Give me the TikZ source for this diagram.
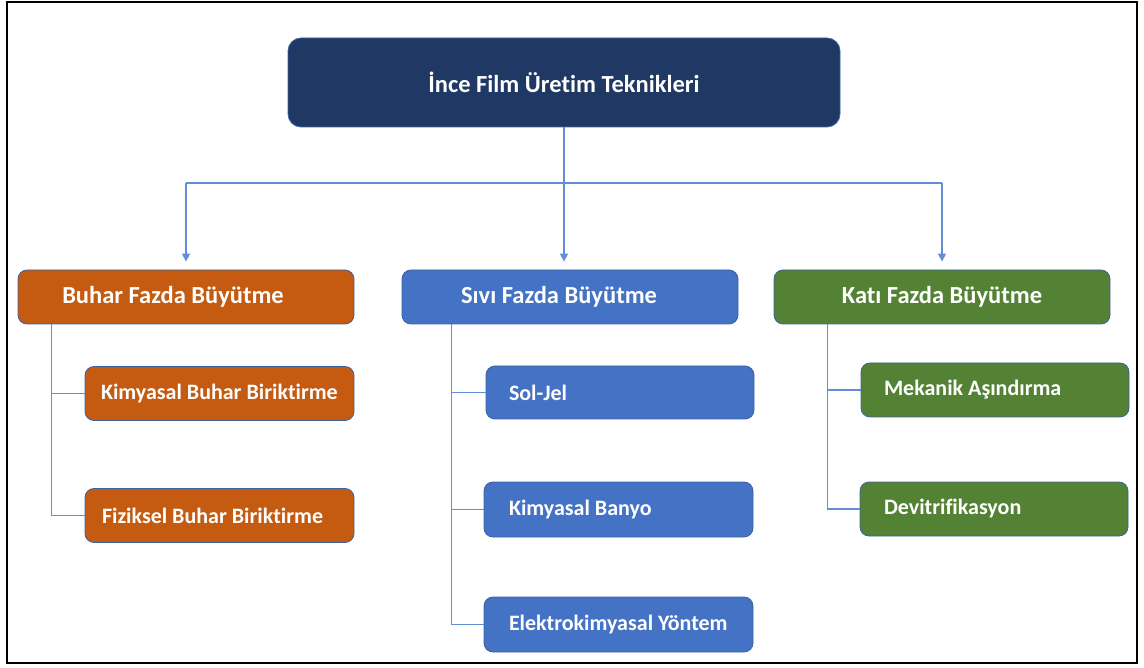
\documentclass[tikz,border=0pt]{standalone}
\usepackage{fontspec}
\setmainfont[Ligatures={NoCommon}]{Carlito}
\usetikzlibrary{arrows.meta}

\definecolor{navyfill}{RGB}{31,56,100}
\definecolor{orangefill}{RGB}{197,90,17}
\definecolor{bluefill}{RGB}{68,114,196}
\definecolor{greenfill}{RGB}{84,130,53}
\definecolor{boxline}{RGB}{62,98,160}
\definecolor{connline}{RGB}{100,140,215}

\newcommand{\leftpad}[2]{\makebox[#1][l]{#2}}

\tikzset{
  box/.style={rounded corners=9pt, draw=boxline, line width=0.8pt,
    text=white, font=\bfseries, inner sep=0pt},
  rootbox/.style={box, fill=navyfill, rounded corners=13pt,
    minimum width=552pt, minimum height=89pt, font=\bfseries\fontsize{24.5}{28}\selectfont},
  phasebox/.style={box, minimum width=336pt, minimum height=54pt,
    font=\bfseries\fontsize{24.5}{28}\selectfont},
  leafbox/.style={box, minimum height=54pt,
    font=\bfseries\fontsize{22}{26}\selectfont},
  conn/.style={draw=connline, line width=1.5pt},
  arr/.style={conn, -{Triangle[width=8pt,length=8pt]}, shorten >=8pt}
}

\begin{document}
\begin{tikzpicture}[x=1pt,y=-1pt]
\useasboundingbox (0,0) rectangle (1144,668);

% outer frame
\draw[line width=2.6pt] (7,2) rectangle (1137,663);

% root
\node[rootbox] (root) at (564,82.5) {İnce Film Üretim Teknikleri};

% growth phases
\node[phasebox, fill=orangefill] (buhar) at (186,297) {\hspace*{-26pt}Buhar Fazda Büyütme};
\node[phasebox, fill=bluefill]   (sivi)  at (570,297) {\hspace*{-22pt}Sıvı Fazda Büyütme};
\node[phasebox, fill=greenfill]  (kati)  at (942,297) {Katı Fazda Büyütme};

% vapour phase techniques
\node[leafbox, fill=orangefill, minimum width=269pt]
  (kbb) at (219.5,393.5) {\leftpad{237pt}{Kimyasal Buhar Biriktirme}};
\node[leafbox, fill=orangefill, minimum width=269pt]
  (fbb) at (219.5,515.5) {\leftpad{235pt}{Fiziksel Buhar Biriktirme}};

% liquid phase techniques
\node[leafbox, fill=bluefill, minimum width=268pt, minimum height=53pt]
  (soljel) at (620,392.5) {\leftpad{222pt}{Sol-Jel}};
\node[leafbox, fill=bluefill, minimum width=269pt, minimum height=55pt]
  (banyo) at (618.5,509.5) {\leftpad{219pt}{Kimyasal Banyo}};
\node[leafbox, fill=bluefill, minimum width=269pt, minimum height=55pt]
  (elektro) at (618.5,624.5) {\leftpad{219pt}{Elektrokimyasal Yöntem}};

% solid phase techniques
\node[leafbox, fill=greenfill, minimum width=268pt]
  (mekanik) at (995,390) {\leftpad{222pt}{Mekanik Aşındırma}};
\node[leafbox, fill=greenfill, minimum width=268pt]
  (devit) at (994,509) {\leftpad{220pt}{Devitrifikasyon}};

% root to phases
\coordinate (bus) at (564,183);
\draw[arr] (root.south) -- (root.south |- sivi.north);
\draw[conn] (bus -| buhar.north) -- (bus -| kati.north);
\draw[arr] (bus -| buhar.north) -- (buhar.north);
\draw[arr] (bus -| kati.north) -- (kati.north);

% phases to techniques
\draw[conn] ([xshift=34pt]buhar.south west) |- (fbb.west);
\draw[conn] ([xshift=34pt]buhar.south west |- kbb.west) -- (kbb.west);
\draw[conn] ([xshift=50pt]sivi.south west) |- (elektro.west);
\draw[conn] ([xshift=50pt]sivi.south west |- soljel.west) -- (soljel.west);
\draw[conn] ([xshift=50pt]sivi.south west |- banyo.west) -- (banyo.west);
\draw[conn] ([xshift=54pt]kati.south west) |- (devit.west);
\draw[conn] ([xshift=54pt]kati.south west |- mekanik.west) -- (mekanik.west);
\end{tikzpicture}
\end{document}
